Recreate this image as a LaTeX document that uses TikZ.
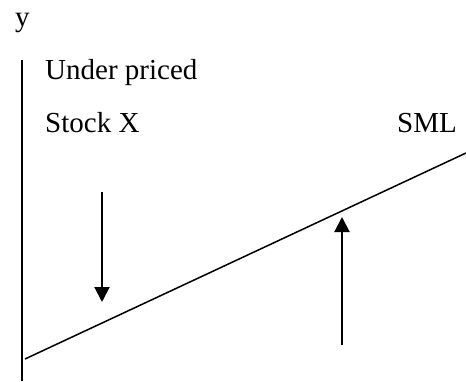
\documentclass[tikz,border=0pt]{standalone}
\usepackage{fontspec}
\setmainfont{Liberation Serif}
\usetikzlibrary{arrows.meta,positioning}

\begin{document}
\begin{tikzpicture}[
  x=1pt, y=-1pt,
  font=\fontsize{29}{34}\selectfont,
  lbl/.style={anchor=base west, inner sep=0pt},
  axis/.style={line width=2pt},
  sml/.style={line width=1.5pt},
  arrow/.style={-{Triangle[length=15pt,width=15pt]}, line width=2pt}
]
\useasboundingbox (0,0) rectangle (466,381);
\node[lbl] (ylab) at (15,26) {y};
\node[lbl] (under) at (45,79) {Under priced};
\node[lbl] (stock) at (45,132) {Stock X};
\node[anchor=base east, inner sep=0pt] (smllab) at (457,132) {SML};
\coordinate (axtop) at (22,60);
\coordinate (axbot) at (22,381);
\coordinate (smlA) at (25,359);
\coordinate (smlB) at (466,153);
\coordinate (dnA) at (102,192);
\coordinate (dnB) at (102,302);
\coordinate (upA) at (342,345);
\coordinate (upB) at (342,217);
\draw[axis] (axtop) -- (axbot);
\draw[sml] (smlA) -- (smlB);
\draw[arrow] (dnA) -- (dnB);
\draw[arrow] (upA) -- (upB);
\end{tikzpicture}
\end{document}
